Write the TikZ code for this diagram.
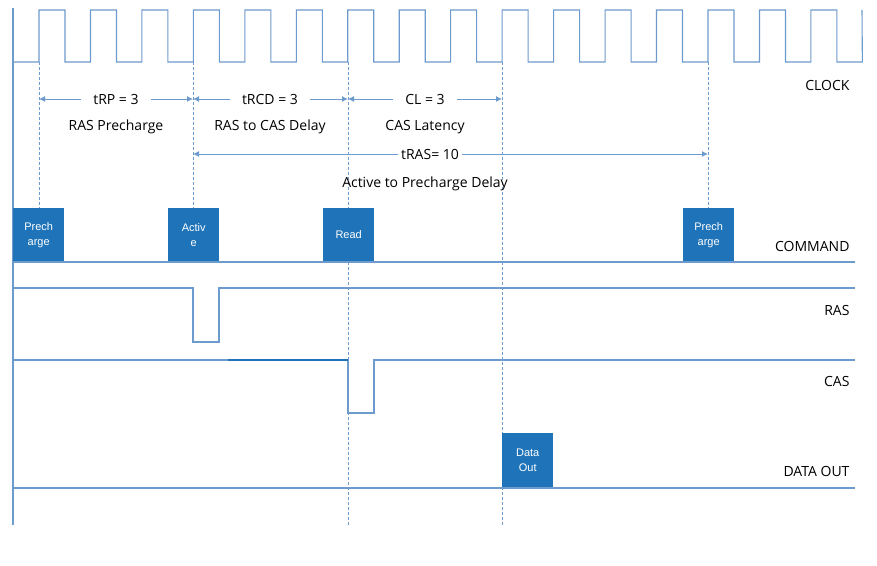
\documentclass[tikz,border=0pt]{standalone}
\usepackage{fontspec}
\setmainfont{Open Sans}
\setsansfont{Liberation Sans}
\usetikzlibrary{arrows.meta}
\definecolor{wl}{RGB}{110,155,205}
\definecolor{bx}{RGB}{30,115,185}
\begin{document}
\begin{tikzpicture}[x=1pt,y=-1pt,
 sig/.style={draw=wl,line width=1.1pt},
 dsh/.style={draw=wl,line width=1pt,dash pattern=on 3pt off 2pt},
 box/.style={fill=bx,text=white,minimum width=51pt,minimum height=53pt,inner sep=0pt,align=center,font=\fontsize{11}{15}\selectfont\sffamily},
 lab/.style={font=\fontsize{14}{16}\selectfont},
 arr/.style={draw=wl,line width=1pt,-{Latex[length=6pt,width=6pt]}}]
\fill[white] (0,0) rectangle (877,565);
% axis
\draw[sig] (13,8) -- (13,525);
% clock
\draw[sig] (13,62) -- (39,62)
 \foreach \i in {0,...,15}{ -- ({39+51.46*\i},10) -- ({65+51.46*\i},10) -- ({65+51.46*\i},62) -- ({90.46+51.46*\i},62)} -- (862,10);
% dashed
\draw[dsh] (39,62) -- (39,208);
\draw[dsh] (193,62) -- (193,208);
\draw[dsh] (348,62) -- (348,525);
\draw[dsh] (502,62) -- (502,525);
\draw[dsh] (708,62) -- (708,208);
% command
\draw[sig] (13,262) -- (855,262);
\node[box,anchor=north west] (p1) at (13,208) {Prech\\arge};
\node[box,anchor=north west] (a1) at (168,208) {Activ\\e};
\node[box,anchor=north west] (r1) at (323,208) {Read};
\node[box,anchor=north west] (p2) at (683,208) {Prech\\arge};
\node[box,anchor=north west,minimum height=55pt] (d1) at (502,433) {Data\\Out};
% RAS
\draw[sig] (13,288) -- (193,288) -- (193,342) -- (219,342) -- (219,288) -- (855,288);
% CAS
\draw[sig] (13,360) -- (348,360) -- (348,413) -- (374,413) -- (374,360) -- (855,360);
\draw[draw=bx,line width=1.6pt] (228,360) -- (348,360);
% data out
\draw[sig] (13,488) -- (855,488);
% labels
\node[lab,anchor=east] (lc) at (853,85) {CLOCK};
\node[lab,anchor=east] (lm) at (853,246) {COMMAND};
\node[lab,anchor=east] (lr) at (853,310) {RAS};
\node[lab,anchor=east] (ls) at (853,381) {CAS};
\node[lab,anchor=east] (ld) at (853,471) {DATA OUT};
% timings
\coordinate (c1) at (39,99); \coordinate (c2) at (193,99); \coordinate (c3) at (348,99); \coordinate (c4) at (502,99);
\node[lab,fill=white,inner xsep=12pt] (t1) at (116,99) {tRP = 3};
\node[lab,fill=white,inner xsep=12pt] (t2) at (270,99) {tRCD = 3};
\node[lab,fill=white,inner xsep=12pt] (t3) at (425,99) {CL = 3};
\draw[arr] (t1) -- (c1); \draw[arr] (t1) -- (c2);
\draw[arr] (t2) -- (c2); \draw[arr] (t2) -- (c3);
\draw[arr] (t3) -- (c3); \draw[arr] (t3) -- (c4);
\node[lab] (n1) at (116,127) {RAS Precharge};
\node[lab] (n2) at (270,127) {RAS to CAS Delay};
\node[lab] (n3) at (425,127) {CAS Latency};
\coordinate (e1) at (193,154); \coordinate (e2) at (708,154);
\node[lab,fill=white,inner xsep=3pt] (t4) at (430,154) {tRAS= 10};
\draw[arr] (t4) -- (e1); \draw[arr] (t4) -- (e2);
\node[lab] (n4) at (425,184) {Active to Precharge Delay};
\end{tikzpicture}
\end{document}
